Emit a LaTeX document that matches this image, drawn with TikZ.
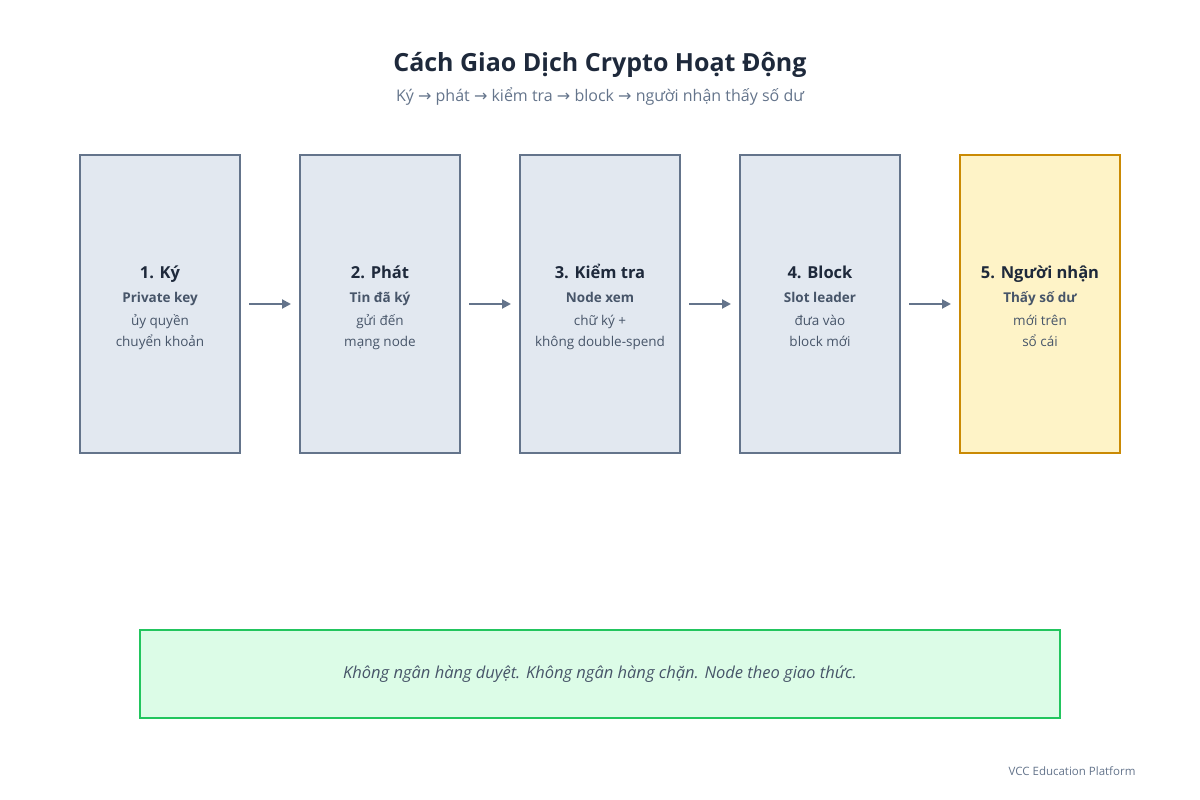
\documentclass[tikz,border=0pt]{standalone}
\usepackage{fontspec}
\setmainfont{Open Sans}
\newfontfamily\arrowfont{DejaVu Sans}
\usetikzlibrary{positioning,arrows.meta}
\definecolor{ink}{HTML}{1E293B}
\definecolor{mute}{HTML}{64748B}
\definecolor{body}{HTML}{475569}
\definecolor{stepfill}{HTML}{E2E8F0}
\definecolor{goldfill}{HTML}{FEF3C7}
\definecolor{gold}{HTML}{CA8A04}
\definecolor{okfill}{HTML}{DCFCE7}
\definecolor{ok}{HTML}{22C55E}
\tikzset{
  stage/.style={draw=mute, fill=stepfill, line width=2pt, minimum width=160pt, minimum height=298pt, inner sep=0pt},
  laststage/.style={stage, draw=gold, fill=goldfill},
  flow/.style={draw=mute, line width=2pt, -{Triangle[length=9pt,width=9pt]}},
  head/.style={anchor=base, text=ink, font=\fontsize{16.5}{20}\selectfont\bfseries},
  key/.style={anchor=base, text=body, font=\fontsize{13.5}{16}\selectfont\bfseries},
  line/.style={anchor=base, text=body, font=\fontsize{13.5}{16}\selectfont},
}
\newcommand{\ar}{{\arrowfont →}}
\newcommand{\steptext}[5]{%
  \node[head] at (#1,278) {#2};
  \node[key] at (#1,302) {#3};
  \node[line] at (#1,325) {#4};
  \node[line] at (#1,346) {#5};}

\begin{document}
\begin{tikzpicture}[x=1pt,y=-1pt]
\useasboundingbox (0,0) rectangle (1200,800);

\node[anchor=base, text=ink, font=\fontsize{25}{30}\selectfont\bfseries] (title) at (600,71) {Cách Giao Dịch Crypto Hoạt Động};
\node[anchor=base, text=mute, font=\fontsize{16}{20}\selectfont] (subtitle) at (600,102) {Ký \ar{} phát \ar{} kiểm tra \ar{} block \ar{} người nhận thấy số dư};

\node[stage] (sign) at (160,304) {};
\node[stage] (send) at (380,304) {};
\node[stage] (check) at (600,304) {};
\node[stage] (block) at (820,304) {};
\node[laststage] (recv) at (1040,304) {};

\steptext{160}{1. Ký}{Private key}{ủy quyền}{chuyển khoản}
\steptext{380}{2. Phát}{Tin đã ký}{gửi đến}{mạng node}
\steptext{600}{3. Kiểm tra}{Node xem}{chữ ký +}{không double-spend}
\steptext{820}{4. Block}{Slot leader}{đưa vào}{block mới}
\steptext{1040}{5. Người nhận}{Thấy số dư}{mới trên}{sổ cái}

\draw[flow] ([xshift=8pt]sign.east) -- ([xshift=-8pt]send.west);
\draw[flow] ([xshift=8pt]send.east) -- ([xshift=-8pt]check.west);
\draw[flow] ([xshift=8pt]check.east) -- ([xshift=-8pt]block.west);
\draw[flow] ([xshift=8pt]block.east) -- ([xshift=-8pt]recv.west);

\node[draw=ok, fill=okfill, line width=2.5pt, minimum width=920pt, minimum height=88pt,
  text=body, font=\fontsize{16.5}{20}\selectfont\itshape] (note) at (600,674)
  {Không ngân hàng duyệt. Không ngân hàng chặn. Node theo giao thức.};

\node[anchor=east, text=mute, font=\fontsize{11.5}{14}\selectfont] (footer) at (1139,771) {VCC Education Platform};
\end{tikzpicture}
\end{document}
